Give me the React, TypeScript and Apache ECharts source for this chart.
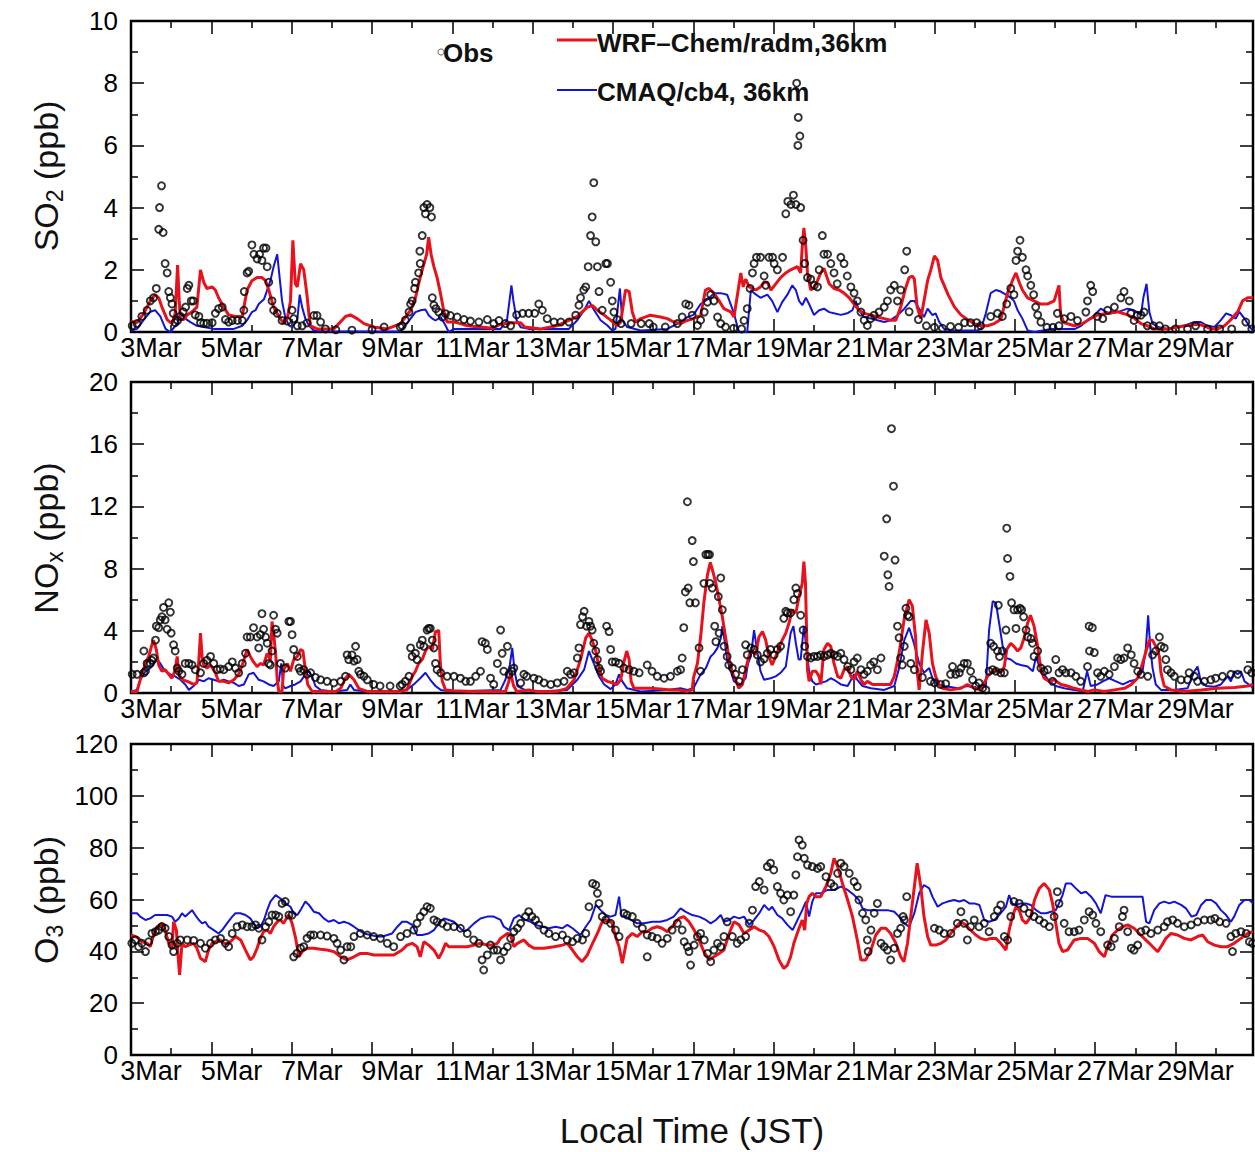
import React, { useEffect, useRef } from "react";
import * as echarts from "echarts";

// ---------- axis labels ----------
const xTickLabels = ["3Mar", "5Mar", "7Mar", "9Mar", "11Mar", "13Mar", "15Mar", "17Mar", "19Mar", "21Mar", "23Mar", "25Mar", "27Mar", "29Mar"];
const xLabelDays = [0.5, 2.5, 4.5, 6.5, 8.5, 10.5, 12.5, 14.5, 16.5, 18.5, 20.5, 22.5, 24.5, 26.5];
const X_MAX = 27.93; // days after 3 Mar 00:00

// ---------- SO2 (ppb) ----------
const so2Obs = [[0.03,0.2],[0.15,0.27],[0.27,0.5],[0.4,0.7],[0.48,1.0],[0.56,1.1],[0.63,1.4],[0.69,3.3],[0.71,4.0],[0.76,4.7],[0.8,3.2],[0.85,2.2],[0.9,1.9],[0.94,1.3],[0.98,1.1],[1.02,0.9],[1.05,0.6],[1.1,0.3],[1.16,0.37],[1.23,0.5],[1.3,0.65],[1.36,0.8],[1.4,1.4],[1.44,1.5],[1.5,1.0],[1.55,1.0],[1.6,0.55],[1.69,0.5],[1.73,0.3],[1.81,0.28],[1.89,0.28],[2.02,0.3],[2.1,0.6],[2.18,0.75],[2.27,0.8],[2.35,0.4],[2.43,0.32],[2.52,0.37],[2.65,0.37],[2.77,0.37],[2.81,0.7],[2.82,1.3],[2.89,1.9],[2.93,1.95],[3.01,2.8],[3.06,2.5],[3.14,2.35],[3.2,2.5],[3.26,2.3],[3.3,2.7],[3.36,2.7],[3.39,2.1],[3.43,1.6],[3.51,1.0],[3.55,0.7],[3.64,0.6],[3.76,0.37],[3.89,0.35],[4.01,0.7],[4.05,0.43],[4.14,0.2],[4.26,0.2],[4.38,0.29],[4.55,0.53],[4.63,0.53],[4.72,0.32],[4.84,0.1],[5.1,0.07],[5.5,0.06],[6.0,0.07],[6.3,0.16],[6.7,0.16],[6.75,0.2],[6.83,0.38],[6.92,0.64],[6.96,0.9],[7.0,1.0],[7.06,1.4],[7.08,1.6],[7.16,1.9],[7.2,2.2],[7.19,2.6],[7.25,3.1],[7.29,4.0],[7.33,3.8],[7.37,4.1],[7.44,4.0],[7.48,3.7],[7.5,1.1],[7.54,0.86],[7.59,0.75],[7.66,0.64],[7.75,0.48],[7.83,0.59],[7.95,0.53],[8.12,0.48],[8.29,0.4],[8.45,0.35],[8.66,0.32],[8.87,0.4],[9.03,0.27],[9.16,0.37],[9.32,0.27],[9.45,0.2],[9.6,0.55],[9.75,0.6],[9.9,0.6],[10.05,0.6],[10.15,0.9],[10.24,0.7],[10.36,0.43],[10.53,0.32],[10.7,0.32],[10.9,0.32],[11.07,0.54],[11.15,0.86],[11.19,1.1],[11.27,1.35],[11.32,1.45],[11.38,2.1],[11.44,3.1],[11.48,3.7],[11.52,4.8],[11.57,2.9],[11.61,2.1],[11.65,1.3],[11.73,0.7],[11.82,2.2],[11.86,2.2],[11.94,1.6],[11.98,1.0],[12.02,0.64],[12.1,0.4],[12.2,0.27],[12.45,0.27],[12.7,0.27],[12.9,0.27],[13.0,0.16],[13.3,0.16],[13.6,0.27],[13.72,0.48],[13.81,0.9],[13.89,0.86],[13.97,0.54],[14.1,0.21],[14.18,0.38],[14.27,0.64],[14.35,0.96],[14.43,1.2],[14.51,1.0],[14.6,0.48],[14.68,0.27],[14.8,0.16],[15.0,0.12],[15.2,0.1],[15.26,0.37],[15.34,0.75],[15.41,1.4],[15.47,1.9],[15.51,2.2],[15.57,2.4],[15.67,2.4],[15.76,1.8],[15.8,1.5],[15.88,2.4],[15.97,2.4],[16.01,2.2],[16.09,2.0],[16.22,2.4],[16.3,3.8],[16.35,4.2],[16.43,4.1],[16.49,4.4],[16.55,4.1],[16.67,4.0],[16.6,6.0],[16.65,6.3],[16.61,6.9],[16.57,8.0],[16.73,2.95],[16.77,2.2],[16.84,1.75],[16.92,1.7],[17.01,1.5],[17.09,1.45],[17.13,2.0],[17.21,3.1],[17.25,2.5],[17.34,2.5],[17.42,2.2],[17.5,1.9],[17.58,1.55],[17.67,2.4],[17.75,2.2],[17.83,1.8],[17.92,1.45],[18.0,1.25],[18.08,1.0],[18.17,0.64],[18.25,0.38],[18.33,0.21],[18.41,0.43],[18.5,0.54],[18.62,0.64],[18.75,0.8],[18.83,1.0],[18.91,1.35],[19.0,1.5],[19.08,1.0],[19.16,1.35],[19.26,2.0],[19.31,2.6],[19.37,0.65],[19.6,0.4],[19.8,0.2],[20.0,0.15],[20.2,0.12],[20.4,0.18],[20.6,0.15],[20.75,0.3],[20.9,0.3],[21.05,0.3],[21.15,0.2],[21.4,0.5],[21.57,0.6],[21.69,0.5],[21.8,0.9],[21.9,1.4],[21.98,1.2],[22.03,2.3],[22.07,2.6],[22.13,2.95],[22.19,2.4],[22.28,2.0],[22.32,1.8],[22.4,1.5],[22.47,1.2],[22.52,0.8],[22.57,0.55],[22.65,0.32],[22.8,0.15],[22.95,0.15],[23.06,0.6],[23.1,0.2],[23.23,0.43],[23.4,0.5],[23.56,0.37],[23.77,0.64],[23.81,1.0],[23.89,1.5],[23.94,1.3],[24.06,0.5],[24.19,0.43],[24.31,0.7],[24.48,0.8],[24.64,1.1],[24.72,1.3],[24.85,1.0],[24.89,0.6],[24.97,0.37],[25.05,0.54],[25.14,0.54],[25.22,0.64],[25.3,0.2],[25.45,0.2],[25.6,0.2],[25.75,0.1],[26.0,0.1],[26.3,0.1],[26.5,0.2],[26.8,0.1],[27.1,0.1],[27.4,0.1],[27.75,0.32],[27.9,0.1]];

const so2Wrf = [[0,0.35],[0.15,0.3],[0.32,0.6],[0.48,1.0],[0.6,1.2],[0.69,1.1],[0.77,0.8],[0.9,0.4],[1.02,0.27],[1.1,0.6],[1.16,2.15],[1.2,1.0],[1.23,0.4],[1.31,0.4],[1.4,0.55],[1.52,0.65],[1.64,0.8],[1.73,2.0],[1.77,1.8],[1.81,1.6],[1.89,1.4],[2.02,1.45],[2.1,1.35],[2.18,1.1],[2.31,0.8],[2.43,0.55],[2.6,0.5],[2.77,0.5],[2.81,0.8],[2.89,1.35],[3.01,1.65],[3.14,1.75],[3.26,1.75],[3.35,1.65],[3.43,1.35],[3.55,0.8],[3.68,0.5],[3.8,0.27],[3.89,0.43],[3.97,1.0],[4.03,2.95],[4.09,1.55],[4.14,1.45],[4.22,2.2],[4.3,2.0],[4.38,1.2],[4.43,0.55],[4.47,0.2],[4.63,0.1],[5.05,0.1],[5.34,0.5],[5.46,0.55],[5.63,0.43],[5.8,0.27],[6.04,0.16],[6.38,0.1],[6.71,0.27],[6.83,0.48],[6.96,0.7],[7.08,1.1],[7.16,1.55],[7.25,2.0],[7.36,2.5],[7.41,3.05],[7.47,2.5],[7.54,2.1],[7.62,1.75],[7.71,1.2],[7.79,0.65],[7.87,0.32],[8.04,0.32],[8.2,0.27],[8.37,0.2],[9.0,0.12],[9.2,0.25],[9.5,0.3],[9.7,0.3],[9.8,0.16],[10.2,0.1],[10.6,0.2],[11.11,0.5],[11.36,0.8],[11.49,0.85],[11.61,0.7],[11.77,0.55],[11.94,0.38],[12.1,0.21],[12.19,0.32],[12.31,1.35],[12.4,1.3],[12.48,0.64],[12.56,0.32],[12.69,0.43],[12.93,0.54],[13.18,0.48],[13.35,0.43],[13.51,0.32],[13.68,0.27],[13.8,0.35],[14.0,0.43],[14.18,0.54],[14.3,1.35],[14.39,1.4],[14.51,1.25],[14.64,1.0],[14.76,0.75],[14.93,0.65],[15.01,0.48],[15.18,1.9],[15.24,1.45],[15.3,1.7],[15.39,1.45],[15.55,1.35],[15.67,1.45],[15.76,1.6],[15.84,1.6],[15.93,1.35],[16.05,1.55],[16.17,1.75],[16.3,1.9],[16.42,2.0],[16.59,2.1],[16.67,1.9],[16.71,2.75],[16.75,3.35],[16.8,2.7],[16.84,1.9],[16.92,1.35],[17.01,1.45],[17.09,1.65],[17.17,1.9],[17.25,2.05],[17.38,1.55],[17.5,1.4],[17.63,1.35],[17.75,1.25],[17.88,1.1],[18.0,0.9],[18.12,0.7],[18.25,0.6],[18.42,0.55],[18.58,0.48],[18.75,0.43],[18.91,0.38],[19.04,0.38],[19.16,0.8],[19.28,1.4],[19.37,1.75],[19.45,1.8],[19.5,1.7],[19.57,0.8],[19.66,0.43],[19.74,1.0],[19.83,1.65],[19.91,2.0],[20.0,2.45],[20.08,2.3],[20.16,1.75],[20.34,1.2],[20.5,0.8],[20.66,0.55],[20.82,0.4],[20.99,0.27],[21.15,0.2],[21.32,0.2],[21.49,0.27],[21.65,0.4],[21.82,1.25],[21.94,1.65],[22.03,1.9],[22.11,1.6],[22.19,1.35],[22.32,1.1],[22.48,1.0],[22.65,0.9],[22.81,0.9],[22.98,1.0],[23.1,1.5],[23.14,0.6],[23.22,0.3],[23.48,0.2],[23.69,0.27],[23.85,0.4],[24.06,0.55],[24.31,0.6],[24.56,0.65],[24.81,0.55],[24.97,0.45],[25.14,0.27],[25.3,0.2],[25.47,0.1],[25.8,0.1],[26.05,0.15],[26.22,0.2],[26.55,0.25],[26.72,0.2],[26.88,0.1],[27.05,0.1],[27.22,0.2],[27.38,0.4],[27.55,0.65],[27.67,1.0],[27.8,1.1],[27.93,1.1]];

const so2Cmaq = [[0,0.05],[0.15,0.1],[0.32,0.4],[0.48,0.65],[0.6,0.7],[0.73,0.5],[0.86,0.1],[0.98,0],[1.15,0.27],[1.23,0.6],[1.35,0.43],[1.48,0.32],[1.64,0.2],[1.81,0.16],[2.06,0.1],[2.31,0.1],[2.56,0.1],[2.77,0.2],[2.89,0.38],[3.01,0.64],[3.1,0.7],[3.18,0.9],[3.31,1.05],[3.39,1.35],[3.47,1.65],[3.55,2.1],[3.64,2.5],[3.7,1.75],[3.76,1.0],[3.84,0.48],[3.93,0.21],[4.01,0.16],[4.14,0.38],[4.2,1.2],[4.26,0.8],[4.34,0.43],[4.43,0.21],[4.55,0.05],[4.8,0.02],[5.5,0.02],[6.2,0.02],[6.71,0.02],[6.83,0.21],[6.96,0.43],[7.08,0.64],[7.21,0.7],[7.33,0.72],[7.41,0.54],[7.5,0.43],[7.58,0.37],[7.71,0.48],[7.83,0.21],[7.91,0],[8.04,0.1],[8.37,0.1],[9.2,0.1],[9.36,0.38],[9.47,1.5],[9.52,1.0],[9.6,0.38],[9.7,0.15],[9.9,0.1],[10.4,0.1],[10.9,0.1],[11.11,0.38],[11.28,0.7],[11.4,1.0],[11.53,0.7],[11.69,0.38],[11.86,0.21],[11.98,0.05],[12.06,0.1],[12.17,1.4],[12.23,0.38],[12.35,0.16],[12.69,0.05],[13.35,0.1],[13.68,0.32],[13.85,0.48],[14.0,0.55],[14.18,0.9],[14.35,1.05],[14.52,1.25],[14.68,1.25],[14.84,1.2],[15.01,0.6],[15.13,0],[15.34,0],[15.43,1.35],[15.51,1.25],[15.67,1.1],[15.84,1.2],[15.96,1.0],[16.09,0.64],[16.21,0.96],[16.34,1.2],[16.46,1.5],[16.55,1.35],[16.63,1.0],[16.71,0.86],[16.8,1.1],[16.88,0.9],[17.0,0.55],[17.13,0.7],[17.25,0.75],[17.38,0.64],[17.5,0.6],[17.67,0.55],[17.83,0.6],[17.96,0.7],[18.04,1.0],[18.12,0.7],[18.25,0.48],[18.42,0.43],[18.58,0.38],[18.75,0.32],[18.91,0.38],[19.08,0.54],[19.25,0.75],[19.41,1.0],[19.5,1.0],[19.62,0.75],[19.74,0.48],[19.83,0.75],[19.95,0.54],[20.03,0.6],[20.12,0.32],[20.24,0.1],[20.41,0.05],[21.07,0.05],[21.16,0.1],[21.28,0.6],[21.4,1.25],[21.53,1.35],[21.65,1.3],[21.78,1.2],[21.9,1.1],[21.98,1.0],[22.07,0.7],[22.19,0.43],[22.32,0.05],[22.49,0],[22.9,0.1],[23.5,0.1],[23.65,0.2],[23.81,0.38],[23.98,0.54],[24.14,0.75],[24.35,0.59],[24.56,0.64],[24.81,0.75],[24.97,0.7],[25.14,0.54],[25.2,1.1],[25.28,1.55],[25.35,0.64],[25.43,0.27],[25.56,0.16],[25.8,0.1],[26.22,0.2],[26.47,0.32],[26.63,0.32],[26.8,0.2],[26.97,0.16],[27.13,0.38],[27.26,0.6],[27.38,0.54],[27.5,0.43],[27.59,0.65],[27.72,0.43],[27.85,0.16],[27.93,0.05]];

// ---------- NOx (ppb) ----------
const noxObs = [[0.03,1.2],[0.15,1.2],[0.32,1.3],[0.36,1.4],[0.4,1.9],[0.32,2.7],[0.48,1.9],[0.52,2.1],[0.56,2.25],[0.61,3.4],[0.63,4.3],[0.69,4.2],[0.73,4.7],[0.77,4.9],[0.81,5.5],[0.85,4.7],[0.9,4.1],[0.94,5.8],[0.98,5.2],[1.0,3.85],[1.06,3.1],[1.1,2.7],[1.15,1.6],[1.19,1.4],[1.27,1.2],[1.35,1.9],[1.44,1.9],[1.52,1.8],[1.6,1.5],[1.73,1.3],[1.81,1.9],[1.89,2.1],[1.98,2.35],[2.06,1.9],[2.14,1.5],[2.22,1.55],[2.31,1.5],[2.43,1.7],[2.52,2.0],[2.6,1.6],[2.68,1.3],[2.77,1.9],[2.85,2.55],[2.89,3.6],[2.97,3.6],[3.05,4.2],[3.14,3.6],[3.18,2.9],[3.22,3.75],[3.26,5.1],[3.3,4.1],[3.35,3.6],[3.39,3.2],[3.43,1.9],[3.47,1.8],[3.51,2.7],[3.55,5.0],[3.6,4.1],[3.64,3.85],[3.72,1.9],[3.84,1.6],[3.93,4.6],[3.97,4.6],[4.01,3.75],[4.05,2.8],[4.14,2.35],[4.18,1.6],[4.22,1.4],[4.3,1.5],[4.38,1.2],[4.47,1.3],[4.59,1.0],[4.72,0.85],[4.88,0.75],[5.05,0.65],[5.22,0.75],[5.34,1.07],[5.38,2.45],[5.42,2.15],[5.5,2.45],[5.55,2.05],[5.59,3.0],[5.63,2.15],[5.67,1.4],[5.71,1.2],[5.8,1.07],[5.88,0.85],[6.04,0.55],[6.2,0.45],[6.45,0.45],[6.7,0.45],[6.75,0.55],[6.83,0.75],[6.92,1.07],[6.96,2.9],[7.0,2.35],[7.08,2.55],[7.12,2.15],[7.2,3.1],[7.25,3.4],[7.29,3.0],[7.37,4.05],[7.41,4.15],[7.45,4.15],[7.5,3.4],[7.54,2.9],[7.58,1.9],[7.62,1.5],[7.71,1.3],[7.87,1.07],[8.04,1.07],[8.2,0.95],[8.33,0.75],[8.45,0.75],[8.58,1.07],[8.7,1.4],[8.74,3.3],[8.82,3.2],[8.87,2.8],[8.95,0.95],[9.03,0.55],[9.12,1.9],[9.2,4.05],[9.24,2.55],[9.28,1.4],[9.37,3.0],[9.41,1.2],[9.49,1.4],[9.53,1.6],[9.7,0.65],[9.78,1.2],[9.85,1.07],[10.03,0.95],[10.15,0.85],[10.28,0.65],[10.45,0.55],[10.61,0.65],[10.78,0.75],[10.86,1.4],[10.94,1.2],[11.03,1.3],[11.11,2.25],[11.15,2.9],[11.19,4.4],[11.24,4.9],[11.28,5.25],[11.34,4.3],[11.4,4.6],[11.44,4.3],[11.48,4.05],[11.52,3.2],[11.57,2.7],[11.61,2.15],[11.65,1.6],[11.69,1.4],[11.84,4.3],[11.9,3.95],[11.94,2.8],[11.98,2.0],[12.06,2.0],[12.15,1.9],[12.27,1.6],[12.4,1.5],[12.52,1.4],[12.65,1.3],[12.85,1.8],[12.97,1.4],[13.1,1.07],[13.27,0.95],[13.43,1.07],[13.6,1.4],[13.68,1.5],[13.72,2.25],[13.76,4.2],[13.8,6.5],[13.87,6.75],[13.85,12.3],[13.91,5.8],[13.97,9.8],[14.0,8.45],[14.05,5.8],[14.14,2.9],[14.18,1.4],[14.26,7.05],[14.31,8.9],[14.36,8.9],[14.4,8.9],[14.41,7.05],[14.47,6.75],[14.53,4.3],[14.56,3.3],[14.64,3.85],[14.62,6.2],[14.68,7.4],[14.72,5.35],[14.76,3.0],[14.84,2.35],[14.88,1.8],[14.97,1.6],[15.05,1.2],[15.14,0.75],[15.22,1.5],[15.3,3.1],[15.34,2.45],[15.43,2.9],[15.51,2.8],[15.59,2.45],[15.67,2.0],[15.76,2.2],[15.84,2.55],[15.92,2.8],[16.01,2.45],[16.09,2.8],[16.17,3.0],[16.25,4.8],[16.3,5.25],[16.34,5.15],[16.42,5.15],[16.5,6.0],[16.55,6.75],[16.59,6.4],[16.67,5.0],[16.73,4.05],[16.77,3.0],[16.84,2.35],[16.92,2.25],[17.0,2.35],[17.09,2.35],[17.17,2.45],[17.25,2.35],[17.34,2.45],[17.42,2.55],[17.5,2.45],[17.59,2.35],[17.67,2.55],[17.75,2.15],[17.84,1.7],[17.92,1.5],[18.0,2.0],[18.08,2.25],[18.17,1.5],[18.25,1.2],[18.33,1.4],[18.41,1.8],[18.49,2.0],[18.58,1.5],[18.67,2.25],[18.75,8.8],[18.81,11.2],[18.84,7.6],[18.87,6.85],[18.93,17.0],[18.98,13.3],[19.02,8.55],[19.08,4.3],[19.12,3.55],[19.16,2.25],[19.2,1.8],[19.25,3.0],[19.29,5.45],[19.33,5.0],[19.37,4.9],[19.41,1.9],[19.5,1.5],[19.7,1.0],[19.9,0.75],[20.0,0.65],[20.15,0.55],[20.28,0.6],[20.4,1.2],[20.45,1.7],[20.53,1.2],[20.62,1.3],[20.66,1.6],[20.74,1.9],[20.82,1.9],[20.9,1.4],[20.95,0.85],[21.03,0.45],[21.11,0.65],[21.2,0.3],[21.28,0.2],[21.36,1.4],[21.45,1.5],[21.53,1.4],[21.59,5.65],[21.65,1.3],[21.74,1.3],[21.4,3.2],[21.47,3.0],[21.57,2.7],[21.62,2.35],[21.69,2.7],[21.78,4.05],[21.82,8.65],[21.8,10.6],[21.88,7.5],[21.92,5.8],[21.98,5.35],[22.03,4.15],[22.07,5.35],[22.13,5.45],[22.17,5.35],[22.22,4.9],[22.28,4.05],[22.32,3.6],[22.4,3.5],[22.44,3.2],[22.48,2.35],[22.57,2.7],[22.65,1.6],[22.73,1.4],[22.82,1.5],[22.94,0.75],[23.02,2.15],[23.1,1.3],[23.19,1.5],[23.27,1.3],[23.4,1.3],[23.52,1.07],[23.64,0.75],[23.81,1.7],[23.85,4.3],[23.93,4.2],[23.86,2.7],[23.98,2.6],[24.06,1.3],[24.14,1.07],[24.23,1.4],[24.35,1.2],[24.48,1.7],[24.56,2.25],[24.64,2.15],[24.72,2.25],[24.81,2.9],[24.9,2.45],[24.97,1.9],[25.06,1.4],[25.14,1.2],[25.31,1.07],[25.43,2.45],[25.51,2.7],[25.6,3.6],[25.64,3.0],[25.72,2.9],[25.76,2.15],[25.8,1.5],[25.89,1.3],[25.97,1.07],[26.14,0.85],[26.3,0.85],[26.34,1.3],[26.47,1.07],[26.55,0.75],[26.72,0.75],[26.88,0.85],[27.0,0.95],[27.17,1.07],[27.38,1.2],[27.55,1.2],[27.8,1.5],[27.9,1.3]];

const noxWrf = [[0,0.1],[0.15,0.1],[0.23,0.85],[0.36,1.9],[0.44,2.35],[0.52,3.1],[0.56,3.4],[0.63,2.8],[0.69,1.8],[0.77,1.4],[0.85,1.5],[0.94,1.2],[1.02,0.95],[1.1,1.5],[1.15,2.35],[1.19,1.2],[1.27,0.85],[1.4,0.75],[1.56,0.55],[1.64,0.65],[1.69,2.15],[1.73,3.85],[1.77,2.35],[1.81,1.8],[1.89,1.6],[1.98,1.8],[2.1,1.3],[2.18,0.75],[2.31,0.75],[2.43,0.65],[2.56,0.85],[2.68,1.2],[2.77,1.8],[2.89,2.8],[2.97,2.35],[3.05,2.0],[3.14,1.7],[3.22,1.9],[3.3,1.8],[3.39,2.55],[3.47,2.15],[3.51,4.6],[3.55,3.85],[3.6,2.55],[3.64,0.85],[3.68,0.1],[3.76,0.1],[3.8,1.5],[3.89,1.9],[3.97,1.4],[4.05,2.15],[4.14,2.35],[4.22,2.8],[4.28,2.7],[4.34,1.5],[4.4,0.55],[4.51,0.1],[5.1,0.1],[5.22,0.3],[5.34,0.95],[5.42,1.2],[5.55,0.85],[5.67,0.3],[5.88,0.1],[6.7,0.1],[6.87,0.2],[7.0,1.07],[7.08,1.4],[7.16,1.9],[7.25,2.15],[7.33,2.7],[7.41,3.0],[7.5,2.8],[7.58,3.95],[7.62,3.95],[7.66,4.05],[7.7,1.9],[7.75,0.75],[7.83,0.2],[8.04,0.15],[8.5,0.1],[9.0,0.1],[9.32,0.1],[9.4,0.7],[9.45,1.3],[9.52,0.5],[9.6,0.1],[9.9,0.2],[10.1,0.1],[10.6,0.1],[10.85,0.3],[11.03,0.85],[11.19,2.15],[11.32,3.55],[11.4,3.85],[11.48,3.4],[11.57,2.7],[11.65,1.6],[11.73,0.95],[11.86,0.75],[11.98,0.65],[12.1,0.55],[12.19,0.85],[12.27,2.0],[12.34,2.7],[12.4,2.15],[12.45,0.75],[12.52,0.3],[12.69,0.3],[12.93,0.3],[13.18,0.25],[13.43,0.2],[13.6,0.2],[13.85,0.1],[13.97,0.2],[14.0,0.95],[14.1,1.9],[14.18,3.6],[14.26,5.8],[14.35,7.6],[14.42,8.4],[14.47,7.95],[14.56,7.05],[14.64,6.0],[14.72,4.9],[14.8,3.6],[14.89,2.15],[14.97,1.3],[15.05,0.85],[15.13,0.3],[15.22,0.55],[15.3,1.5],[15.39,2.45],[15.47,2.7],[15.55,2.45],[15.63,3.6],[15.72,3.95],[15.8,3.4],[15.88,2.35],[15.96,1.8],[16.05,2.35],[16.13,2.9],[16.21,3.4],[16.3,3.85],[16.38,4.5],[16.46,5.35],[16.55,5.15],[16.63,6.2],[16.71,7.05],[16.75,8.45],[16.79,7.05],[16.84,1.5],[16.88,0.75],[16.96,1.4],[17.05,1.4],[17.13,1.07],[17.17,0.55],[17.25,2.8],[17.34,3.2],[17.42,3.0],[17.5,1.9],[17.59,1.07],[17.67,0.95],[17.75,1.5],[17.84,1.7],[17.92,1.07],[18.0,0.85],[18.08,1.4],[18.17,0.85],[18.25,0.55],[18.33,0.75],[18.46,0.55],[18.67,0.55],[18.91,0.55],[19.0,1.07],[19.12,2.55],[19.25,4.8],[19.37,6.0],[19.45,5.6],[19.53,3.6],[19.57,1.4],[19.62,0.2],[19.7,2.55],[19.79,4.7],[19.87,3.85],[19.95,1.9],[20.03,1.07],[20.12,0.55],[20.2,0.3],[20.4,0.2],[20.66,0.3],[20.82,0.55],[21.0,0.3],[21.15,0.2],[21.24,0.65],[21.32,1.07],[21.45,1.4],[21.53,1.5],[21.65,1.3],[21.74,1.7],[21.8,2.8],[21.9,3.2],[21.98,3.0],[22.07,2.7],[22.15,2.9],[22.24,3.6],[22.32,4.5],[22.39,5.0],[22.48,4.3],[22.57,3.0],[22.65,1.5],[22.73,0.95],[22.86,0.75],[22.98,0.85],[23.15,0.55],[23.31,0.45],[23.48,0.3],[23.65,0.2],[23.82,0.1],[23.98,0.2],[24.23,0.1],[24.48,0.2],[24.73,0.3],[24.9,0.55],[25.06,0.95],[25.18,1.9],[25.27,2.7],[25.35,3.4],[25.43,3.4],[25.51,3.0],[25.6,2.35],[25.64,1.3],[25.72,0.45],[25.89,0.2],[26.22,0.1],[26.64,0.2],[27.05,0.3],[27.47,0.35],[27.8,0.45],[27.93,0.55]];

const noxCmaq = [[0,0.1],[0.15,0.2],[0.23,0.85],[0.36,1.4],[0.48,1.6],[0.65,2.15],[0.73,1.9],[0.85,1.4],[0.98,1.2],[1.1,1.07],[1.23,0.85],[1.35,0.55],[1.44,0.2],[1.56,0.45],[1.69,0.85],[1.81,0.75],[1.93,0.95],[2.06,0.85],[2.18,0.75],[2.31,0.85],[2.43,0.75],[2.56,0.65],[2.68,0.45],[2.81,0.55],[2.93,1.2],[3.05,1.3],[3.18,0.85],[3.3,0.75],[3.43,0.55],[3.55,0.45],[3.68,0.75],[3.74,1.9],[3.79,0.45],[3.84,0.3],[3.97,0.45],[4.09,0.55],[4.22,0.75],[4.34,1.2],[4.43,1.4],[4.51,1.07],[4.59,0.45],[4.72,0.2],[5.05,0.1],[5.38,0.2],[5.46,0.55],[5.55,0.2],[5.88,0.1],[6.7,0.1],[6.92,0.3],[7.08,0.65],[7.2,0.95],[7.33,1.3],[7.45,0.85],[7.58,0.45],[7.71,0.2],[7.95,0.1],[9.2,0.2],[9.32,0.85],[9.43,1.8],[9.49,2.9],[9.55,1.4],[9.62,0.45],[9.8,0.2],[10.15,0.1],[10.86,0.2],[11.11,0.85],[11.28,1.5],[11.4,2.7],[11.52,1.9],[11.65,1.07],[11.78,0.55],[11.94,0.25],[12.06,0.55],[12.15,1.2],[12.23,0.75],[12.35,0.3],[12.69,0.1],[13.35,0.2],[13.68,0.3],[13.85,0.2],[14.0,0.3],[14.18,1.2],[14.31,1.6],[14.43,2.35],[14.51,2.55],[14.6,2.9],[14.68,3.5],[14.72,4.3],[14.78,3.3],[14.84,2.15],[14.93,1.4],[15.01,0.75],[15.18,0.55],[15.3,0.95],[15.36,1.9],[15.43,2.35],[15.51,4.05],[15.57,3.0],[15.67,1.4],[15.76,0.85],[15.92,0.95],[16.05,1.07],[16.17,1.3],[16.3,1.7],[16.42,3.85],[16.49,4.3],[16.55,3.2],[16.62,2.15],[16.67,2.15],[16.75,4.3],[16.8,3.2],[16.88,1.4],[16.96,0.75],[17.05,0.55],[17.17,0.65],[17.3,0.75],[17.42,0.95],[17.5,0.85],[17.67,0.55],[17.84,0.45],[18.0,1.2],[18.08,0.85],[18.21,0.45],[18.42,0.3],[18.75,0.2],[19.0,0.45],[19.12,1.6],[19.25,3.4],[19.37,4.2],[19.49,3.2],[19.62,1.9],[19.74,1.3],[19.87,1.6],[19.95,0.95],[20.08,0.55],[20.25,0.45],[20.58,0.3],[20.82,0.45],[21.07,0.3],[21.28,0.45],[21.36,4.05],[21.45,5.9],[21.53,5.8],[21.61,4.5],[21.7,3.0],[21.78,2.25],[21.9,2.15],[22.03,1.9],[22.15,1.8],[22.32,1.7],[22.45,1.4],[22.53,2.35],[22.61,1.7],[22.73,1.2],[22.86,0.75],[23.02,0.45],[23.23,0.3],[23.48,0.2],[23.69,0.1],[23.8,1.4],[23.89,0.45],[24.06,0.55],[24.19,0.75],[24.35,0.95],[24.52,0.75],[24.69,0.55],[24.85,0.75],[25.02,0.85],[25.18,1.4],[25.26,2.8],[25.32,5.0],[25.37,3.0],[25.43,1.6],[25.51,0.55],[25.64,0.2],[25.97,0.2],[26.3,0.3],[26.47,1.4],[26.55,1.7],[26.63,0.75],[26.76,0.45],[26.97,0.4],[27.13,0.55],[27.3,1.07],[27.38,0.75],[27.46,1.4],[27.55,1.2],[27.63,1.4],[27.72,0.75],[27.88,0.45],[27.93,0.3]];

// ---------- O3 (ppb) ----------
const o3Obs = [[0.02,43.1],[0.11,44.4],[0.19,41.8],[0.27,43.1],[0.36,39.9],[0.44,43.7],[0.52,46.9],[0.61,47.6],[0.69,48.2],[0.77,49.5],[0.85,48.9],[0.94,45.7],[1.02,42.4],[1.06,39.9],[1.15,43.1],[1.23,44.4],[1.4,44.4],[1.56,44.2],[1.73,43.1],[1.85,41.2],[1.98,43.1],[2.1,44.4],[2.23,45],[2.35,43.1],[2.43,41.8],[2.52,46.9],[2.64,49.5],[2.77,50.2],[2.89,49.5],[3.01,49.5],[3.1,50.2],[3.18,48.9],[3.26,44.4],[3.35,49.5],[3.43,51.4],[3.51,54],[3.6,54],[3.68,53.4],[3.76,58.5],[3.84,59.2],[3.93,54],[4.01,54],[4.05,37.9],[4.13,39.2],[4.22,41.2],[4.3,41.8],[4.38,45],[4.47,46.3],[4.55,46.3],[4.72,46.3],[4.88,45.9],[5.05,45],[5.13,43.1],[5.22,40.5],[5.3,36.7],[5.38,41.8],[5.47,41.8],[5.55,45.7],[5.71,46.9],[5.88,46.3],[6.04,45.7],[6.21,45],[6.38,43.1],[6.54,41.8],[6.71,45.7],[6.87,46.9],[7.04,48.2],[7.12,50.8],[7.2,53.4],[7.29,55.3],[7.37,57.2],[7.45,56.6],[7.54,52.1],[7.62,51.4],[7.75,50.8],[7.87,49.5],[8.04,49.5],[8.2,48.9],[8.37,46.9],[8.53,44.4],[8.66,43.1],[8.74,36.7],[8.78,32.8],[8.87,38.6],[8.95,42.4],[9.03,40.5],[9.12,40.5],[9.2,36.7],[9.28,39.9],[9.37,41.8],[9.45,45],[9.53,47.6],[9.62,48.9],[9.7,50.8],[9.82,53.4],[9.9,55.3],[9.98,53.4],[10.07,52.1],[10.15,50.2],[10.28,48.2],[10.4,46.9],[10.57,45.7],[10.74,46.3],[10.86,44.4],[10.99,43.7],[11.11,45],[11.24,44.4],[11.32,46.9],[11.4,57.2],[11.49,66.2],[11.57,65.6],[11.61,62.4],[11.65,58.5],[11.73,53.4],[11.82,52.1],[11.94,50.8],[12.06,48.2],[12.15,45.7],[12.27,54.7],[12.35,54],[12.48,53.4],[12.6,50.8],[12.73,48.9],[12.85,46.3],[12.85,37.9],[12.97,45.7],[13.1,45],[13.22,43.1],[13.35,45],[13.47,48.2],[13.6,50.8],[13.72,48.2],[13.77,43.7],[13.85,41.8],[13.89,39.9],[13.93,34.7],[14.02,42.4],[14.1,45.7],[14.18,46.9],[14.27,44.4],[14.35,39.2],[14.43,36],[14.51,40.5],[14.6,43.1],[14.68,41.8],[14.76,45.7],[14.84,51.4],[14.97,45.7],[15.09,43.1],[15.18,44.4],[15.3,45.7],[15.39,50.8],[15.47,55.9],[15.55,65],[15.64,66.9],[15.76,63.7],[15.84,72.7],[15.92,74],[16.0,71.4],[16.09,65],[16.17,62.4],[16.25,59.8],[16.34,61.7],[16.42,55.3],[16.5,61.7],[16.55,69.5],[16.59,76.5],[16.63,83],[16.71,81],[16.76,75.9],[16.84,73.3],[16.96,72.7],[17.09,72],[17.17,72.7],[17.3,68.8],[17.42,66.2],[17.5,65],[17.59,70.1],[17.67,74],[17.75,72.7],[17.88,70.1],[18.0,66.9],[18.08,65],[18.12,59.8],[18.21,54.7],[18.29,52.1],[18.33,44.4],[18.35,39.9],[18.42,48.2],[18.5,54.7],[18.58,58.5],[18.67,43.1],[18.75,41.8],[18.83,40.5],[18.91,36.7],[19.0,41.2],[19.08,46.9],[19.16,48.9],[19.22,53.4],[19.25,52.1],[19.31,61.1],[20.0,48.9],[20.12,48.2],[20.24,46.9],[20.41,46.9],[20.57,50.8],[20.66,55.3],[20.74,50.8],[20.82,44.4],[20.9,49.5],[20.99,52.1],[21.11,49.5],[21.24,50.8],[21.36,47.6],[21.49,53.4],[21.57,55.9],[21.65,57.9],[21.74,45.7],[21.82,44.4],[21.9,53.4],[21.98,59.2],[22.11,58.5],[22.23,56.6],[22.36,54.7],[22.48,53.4],[22.61,52.1],[22.73,50.8],[22.86,49.5],[22.98,53.4],[23.06,63],[23.1,58.5],[23.23,50.8],[23.35,47.6],[23.48,47.6],[23.6,48.2],[23.73,52.1],[23.85,55.3],[23.94,54],[24.02,50.8],[24.14,47.6],[24.31,42.4],[24.4,41.8],[24.48,45],[24.6,49.5],[24.68,53.4],[24.72,55.9],[24.81,47.6],[24.9,41.2],[24.97,40.5],[25.06,42.4],[25.14,47.6],[25.26,48.2],[25.39,46.9],[25.56,48.2],[25.72,49.5],[25.8,51.4],[25.93,52.1],[26.05,50.8],[26.22,49.5],[26.39,50.2],[26.55,51.4],[26.72,52.1],[26.88,52.1],[26.98,52.7],[27.1,51.4],[27.26,50.8],[27.38,45.7],[27.42,39.9],[27.5,46.9],[27.63,47.6],[27.76,46.9],[27.84,43.7],[27.92,43.1]];

const o3Wrf = [[0,46.3],[0.11,45.7],[0.19,45],[0.27,43.7],[0.4,43.1],[0.48,41.8],[0.56,46.3],[0.65,49.5],[0.77,50.8],[0.85,48.2],[0.94,43.1],[1.02,41.2],[1.06,51.4],[1.13,48.2],[1.16,40.5],[1.21,30.9],[1.27,43.1],[1.35,41.8],[1.44,42.4],[1.56,43.1],[1.64,41.2],[1.73,37.3],[1.85,36],[1.93,40.5],[2.02,43.1],[2.1,43.7],[2.22,44.4],[2.31,43.1],[2.43,43.1],[2.52,44.4],[2.6,45.7],[2.73,44.4],[2.85,40.5],[2.97,36.7],[3.05,37.9],[3.14,41.2],[3.22,45],[3.3,47.6],[3.39,48.2],[3.47,46.9],[3.55,49.5],[3.64,51.4],[3.72,52.1],[3.8,50.8],[3.89,53.4],[3.93,54],[4.01,50.8],[4.09,45.7],[4.18,37.9],[4.26,39.9],[4.38,41.2],[4.55,41.2],[4.72,40.8],[4.88,40.5],[5.05,39.9],[5.22,37.9],[5.38,36.7],[5.55,37.9],[5.71,39.2],[5.88,39.2],[6.04,38.6],[6.29,38.6],[6.54,38.6],[6.75,40.5],[6.87,42.4],[7.0,43.1],[7.12,41.8],[7.2,37.9],[7.29,43.7],[7.41,42.4],[7.54,40.5],[7.66,37.3],[7.75,39.9],[7.83,43.1],[7.91,41.8],[8.04,41.8],[8.2,41.8],[8.37,41.8],[8.54,42.4],[8.7,43.1],[8.87,42.4],[9.0,42.4],[9.12,43.1],[9.2,45],[9.37,46.9],[9.45,46.3],[9.53,41.8],[9.62,43.1],[9.78,44.4],[9.9,42.4],[10.03,41.2],[10.28,41.2],[10.53,41.8],[10.74,42.4],[10.86,43.1],[10.99,40.5],[11.11,37.9],[11.23,36],[11.36,38.6],[11.49,43.1],[11.61,46.9],[11.73,51.4],[11.86,52.1],[11.98,50.8],[12.06,45.7],[12.15,41.8],[12.23,35.4],[12.35,45],[12.48,46.9],[12.6,45.7],[12.73,47.6],[12.85,47.6],[12.97,48.9],[13.1,49.5],[13.22,48.9],[13.35,47.6],[13.47,49.5],[13.64,52.7],[13.76,53.4],[13.89,51.4],[14.02,48.2],[14.14,44.4],[14.26,39.9],[14.39,36.7],[14.51,37.9],[14.64,39.2],[14.76,40.5],[14.89,46.9],[15.01,51.4],[15.14,50.2],[15.26,46.9],[15.39,48.2],[15.51,49.5],[15.64,48.2],[15.76,47.6],[15.88,45.7],[16.01,41.8],[16.13,36.7],[16.25,33.4],[16.34,34.7],[16.42,37.9],[16.5,43.1],[16.63,48.9],[16.71,52.1],[16.77,48.2],[16.82,58.5],[16.88,61.1],[16.96,62.4],[17.05,61.1],[17.17,61.1],[17.3,65],[17.42,70.1],[17.5,75.9],[17.59,72.7],[17.71,66.2],[17.84,59.8],[17.96,53.4],[18.08,44.4],[18.17,36.7],[18.29,36.7],[18.42,40.5],[18.54,46.3],[18.67,48.9],[18.79,48.9],[18.91,46.9],[19.04,43.1],[19.16,37.9],[19.24,36],[19.33,43.1],[19.45,58.5],[19.57,74],[19.66,65],[19.74,53.4],[19.83,45.7],[19.91,42.4],[20.03,42.4],[20.16,43.1],[20.29,44.4],[20.41,46.9],[20.54,49.5],[20.66,51.4],[20.78,50.2],[20.9,48.2],[21.03,46.3],[21.15,45],[21.28,44.4],[21.4,45],[21.53,45],[21.65,43.1],[21.78,40.5],[21.86,48.2],[21.94,53.4],[22.03,57.2],[22.11,55.9],[22.19,52.1],[22.28,50.8],[22.4,53.4],[22.49,59.8],[22.61,64.3],[22.73,66.2],[22.86,63.7],[22.94,58.5],[23.02,50.8],[23.1,43.1],[23.19,39.9],[23.31,40.5],[23.48,44.4],[23.65,45],[23.81,45],[23.98,43.1],[24.1,39.9],[24.23,37.9],[24.31,41.8],[24.43,46.3],[24.56,48.2],[24.68,49.5],[24.81,50.2],[24.97,48.9],[25.1,46.9],[25.22,45],[25.35,43.1],[25.47,41.2],[25.56,39.9],[25.64,41.8],[25.76,45],[25.89,46.9],[26.05,46.3],[26.22,45],[26.39,44.4],[26.55,45.7],[26.68,46.3],[26.8,43.7],[26.97,42.4],[27.13,41.8],[27.3,41.8],[27.46,43.1],[27.63,45],[27.8,46.9],[27.93,47.6]];

const o3Cmaq = [[0,54.7],[0.15,54.7],[0.23,53.4],[0.36,52.1],[0.48,52.7],[0.6,54],[0.73,54],[0.9,54],[1.02,53.4],[1.1,51.4],[1.19,52.7],[1.27,54.7],[1.35,53.4],[1.44,54.7],[1.52,55.9],[1.6,54],[1.69,52.1],[1.77,50.8],[1.85,51.4],[1.93,49.5],[2.06,48.2],[2.18,46.9],[2.27,48.2],[2.39,50.8],[2.52,53.4],[2.6,54.7],[2.72,54.7],[2.85,54],[2.97,52.7],[3.05,50.8],[3.14,48.9],[3.22,49.5],[3.31,52.1],[3.39,55.9],[3.47,59.2],[3.6,61.7],[3.72,60.4],[3.84,58.5],[3.97,57.2],[4.05,54.7],[4.14,54],[4.22,55.9],[4.34,59.2],[4.43,57.9],[4.55,55.3],[4.68,54.7],[4.8,52.7],[4.92,51.4],[5.05,52.1],[5.18,50.8],[5.3,51.4],[5.42,50.8],[5.55,49.5],[5.67,48.2],[5.8,46.9],[5.96,46.3],[6.13,45.7],[6.25,45.7],[6.38,46.3],[6.5,46.9],[6.63,49.5],[6.75,51.4],[6.87,51.4],[7.0,50.2],[7.12,46.3],[7.25,46.3],[7.41,46.9],[7.54,48.2],[7.66,50.8],[7.79,52.7],[7.91,52.1],[8.04,51.4],[8.16,49.5],[8.29,47.6],[8.37,48.2],[8.54,50.8],[8.7,52.7],[8.87,53.4],[9.03,53.4],[9.2,52.1],[9.28,49.5],[9.41,48.2],[9.53,52.7],[9.66,54],[9.7,53.4],[9.82,52.1],[9.95,51.4],[10.07,50.2],[10.24,49.5],[10.4,48.9],[10.57,49.5],[10.74,48.9],[10.86,50.2],[10.99,48.9],[11.19,46.3],[11.32,49.5],[11.44,52.1],[11.57,57.9],[11.69,55.9],[11.82,54],[11.94,53.4],[12.06,54],[12.15,61.1],[12.21,53.4],[12.31,53.4],[12.44,52.1],[12.6,50.8],[12.77,50.8],[12.98,51.4],[13.18,51.4],[13.35,52.1],[13.51,53.4],[13.68,56.6],[13.8,55.3],[13.97,54],[14.14,53.4],[14.31,52.1],[14.43,50.8],[14.56,52.1],[14.68,54],[14.76,51.4],[14.89,52.1],[15.01,53.4],[15.14,52.7],[15.26,53.4],[15.39,50.2],[15.51,52.1],[15.64,54.7],[15.76,57.9],[15.88,55.9],[15.96,57.2],[16.09,54],[16.21,52.7],[16.34,50.2],[16.47,48.2],[16.59,52.1],[16.71,55.9],[16.8,59.2],[16.88,53.4],[16.96,59.2],[17.05,62.4],[17.17,62.4],[17.34,63.7],[17.5,63.7],[17.67,65],[17.84,63.7],[18.0,61.7],[18.12,59.8],[18.21,56.6],[18.33,55.9],[18.5,55.9],[18.67,55.9],[18.83,55.9],[19.0,55.3],[19.12,53.4],[19.25,50.8],[19.37,49.5],[19.5,54.7],[19.62,62.4],[19.74,65.6],[19.87,64.3],[19.95,61.1],[20.08,57.2],[20.2,58.5],[20.33,59.2],[20.49,59.8],[20.62,59.2],[20.74,59.8],[20.87,58.5],[20.99,58.5],[21.12,57.9],[21.24,52.1],[21.36,51.4],[21.49,52.1],[21.65,54.7],[21.78,57.2],[21.86,61.7],[21.94,58.5],[22.03,57.9],[22.15,58.5],[22.28,58.5],[22.4,57.9],[22.53,55.9],[22.65,54.7],[22.78,54.7],[22.9,55.3],[23.02,55.9],[23.1,58.5],[23.19,61.7],[23.27,66.2],[23.4,66.2],[23.52,64.3],[23.65,62.4],[23.77,63],[23.9,61.1],[24.02,58.5],[24.14,54.7],[24.26,61.7],[24.4,61.1],[24.56,61.1],[24.73,61.1],[24.9,61.1],[25.06,61.1],[25.18,61.1],[25.27,51.4],[25.35,50.8],[25.47,55.9],[25.6,58.5],[25.72,59.2],[25.85,58.5],[25.97,59.2],[26.14,57.9],[26.26,56.6],[26.4,53.4],[26.52,54],[26.64,57.9],[26.76,59.8],[26.89,59.8],[27.01,58.5],[27.13,55.9],[27.26,54],[27.38,51.4],[27.46,53.4],[27.59,57.9],[27.72,59.8],[27.84,59.8],[27.93,58.5]];

// ---------- panel definitions ----------
const panelMax = [10, 20, 120];
const panelInterval = [2, 4, 20];

const FONT = "'Liberation Sans', Arial, Helvetica, sans-serif";
const RED = "#e8121c";
const BLUE = "#1414d6";

function sorted(a: number[][]) {
  return [...a].sort((p, q) => p[0] - q[0]);
}

export default function App() {
  const ref = useRef<HTMLDivElement>(null);

  useEffect(() => {
    document.body.style.margin = "0";
    if (!ref.current) return;
    const chart = echarts.init(ref.current, null, { renderer: "svg" });

    const tops = [21, 382, 744];
    const grid = tops.map((t) => ({
      left: 131,
      width: 1122,
      top: t,
      height: 311,
      show: true,
      borderColor: "#000",
      borderWidth: 2.5,
      backgroundColor: "transparent",
    }));

    const tickStyle = { color: "#000", width: 1.5 };
    const majorTick = { show: true, inside: true, length: 13, lineStyle: tickStyle };
    const minorTick = { show: true, splitNumber: 2, length: 7, lineStyle: tickStyle };
    const axisLine = { show: false, onZero: false };
    const xAxis: any[] = [];
    const yAxis: any[] = [];
    for (let i = 0; i < 3; i++) {
      for (const pos of ["bottom", "top"]) {
        xAxis.push({
          type: "value",
          gridIndex: i,
          position: pos,
          min: 0,
          max: X_MAX,
          interval: 2,
          axisLine,
          axisTick: majorTick,
          minorTick,
          splitLine: { show: false },
          minorSplitLine: { show: false },
          axisLabel:
            pos === "bottom"
              ? {
                  show: true,
                  customValues: xLabelDays,
                  formatter: (v: number) => {
                    const k = xLabelDays.findIndex((d) => Math.abs(d - v) < 1e-6);
                    return k >= 0 ? xTickLabels[k] : "";
                  },
                  fontSize: 27,
                  color: "#000",
                  fontFamily: FONT,
                  margin: 2,
                }
              : { show: false },
        });
      }
      for (const pos of ["left", "right"]) {
        yAxis.push({
          type: "value",
          gridIndex: i,
          position: pos,
          min: 0,
          max: panelMax[i],
          interval: panelInterval[i],
          axisLine,
          axisTick: majorTick,
          minorTick,
          splitLine: { show: false },
          minorSplitLine: { show: false },
          axisLabel:
            pos === "left"
              ? { show: true, fontSize: 26, color: "#000", fontFamily: FONT, margin: 13 }
              : { show: false },
        });
      }
    }

    const panels = [
      { obs: so2Obs, wrf: so2Wrf, cmaq: so2Cmaq },
      { obs: noxObs, wrf: noxWrf, cmaq: noxCmaq },
      { obs: o3Obs, wrf: o3Wrf, cmaq: o3Cmaq },
    ];
    const series: any[] = [];
    panels.forEach((p, i) => {
      series.push({
        type: "line",
        name: "CMAQ/cb4, 36km",
        xAxisIndex: i * 2,
        yAxisIndex: i * 2,
        data: sorted(p.cmaq),
        showSymbol: false,
        symbol: "none",
        lineStyle: { color: BLUE, width: 2 },
        z: 3,
      });
      series.push({
        type: "line",
        name: "WRF-Chem/radm,36km",
        xAxisIndex: i * 2,
        yAxisIndex: i * 2,
        data: sorted(p.wrf),
        showSymbol: false,
        symbol: "none",
        lineStyle: { color: RED, width: 3 },
        z: 4,
      });
      series.push({
        type: "scatter",
        name: "Obs",
        xAxisIndex: i * 2,
        yAxisIndex: i * 2,
        data: p.obs,
        symbol: "circle",
        symbolSize: 7,
        itemStyle: { color: "rgba(255,255,255,0)", borderColor: "#000", borderWidth: 1.9 },
        z: 5,
      });
    });

    const yTitle = (main: string, sub: string, cy: number) => ({
      type: "text",
      x: 46,
      y: cy,
      rotation: Math.PI / 2,
      style: {
        text: `{a|${main}}{b|${sub}}{a| (ppb)}`,
        align: "center",
        verticalAlign: "middle",
        rich: {
          a: { fontSize: 34, fontFamily: FONT, fill: "#111", lineHeight: 40, verticalAlign: "middle" },
          b: { fontSize: 23, fontFamily: FONT, fill: "#111", lineHeight: 23, verticalAlign: "bottom" },
        },
      },
    });

    const graphic: any[] = [
      yTitle("SO", "2", 176),
      yTitle("NO", "x", 538),
      yTitle("O", "3", 900),
      {
        type: "text",
        x: 692,
        y: 1130,
        style: { text: "Local Time (JST)", align: "center", verticalAlign: "middle", fontSize: 35, fontFamily: FONT, fill: "#111" },
      },
      // legend
      { type: "line", shape: { x1: 557, y1: 40, x2: 597, y2: 40 }, style: { stroke: RED, lineWidth: 3 } },
      {
        type: "text",
        x: 597,
        y: 43,
        style: { text: "WRF–Chem/radm,36km", align: "left", verticalAlign: "middle", fontSize: 26, fontWeight: "bold", fontFamily: FONT, fill: "#111" },
      },
      { type: "line", shape: { x1: 557, y1: 90, x2: 597, y2: 90 }, style: { stroke: BLUE, lineWidth: 2 } },
      {
        type: "text",
        x: 597,
        y: 92,
        style: { text: "CMAQ/cb4, 36km", align: "left", verticalAlign: "middle", fontSize: 26, fontWeight: "bold", fontFamily: FONT, fill: "#111" },
      },
      { type: "circle", shape: { cx: 441, cy: 52, r: 3 }, style: { fill: "none", stroke: "#888", lineWidth: 1.2 } },
      {
        type: "text",
        x: 443,
        y: 53,
        style: { text: "Obs", align: "left", verticalAlign: "middle", fontSize: 26, fontWeight: "bold", fontFamily: FONT, fill: "#111" },
      },
    ];

    chart.setOption({
      animation: false,
      backgroundColor: "#fff",
      grid,
      xAxis,
      yAxis,
      series,
      graphic,
    });

    return () => chart.dispose();
  }, []);

  return <div ref={ref} style={{ width: 1255, height: 1152, position: "absolute", left: 0, top: 0 }} />;
}
